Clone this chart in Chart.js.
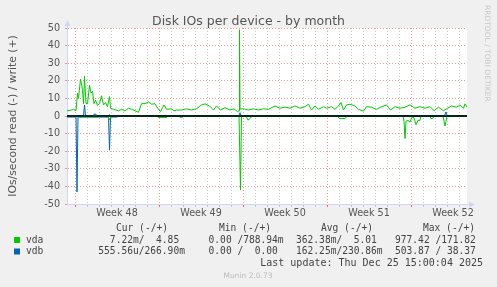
<!DOCTYPE html>
<html>
<head>
<meta charset="utf-8">
<title>Disk IOs per device - by month</title>
<script src="https://cdn.jsdelivr.net/npm/chart.js"></script>
<style>
  html, body { margin: 0; padding: 0; background: #f0f0f0; }
</style>
</head>
<body>
<canvas id="diskChart" width="497" height="287"></canvas>
<script>
// time axis is in hours from the left edge of the graph
const spanHours = 800;
const firstWeekHour = 16;
const weekLabels = ["Week 48", "Week 49", "Week 50", "Week 51", "Week 52"];

// [hour, value]; read is drawn negative
const vdaWrite = [
  [0, 3], [6, 3.2], [13, 3.8], [18, 3], [21, 13], [23, 10], [27, 21], [31, 15], [33, 7],
  [35, 22.5], [38, 7], [41, 7], [45, 17.5], [48, 13], [51, 14], [54, 7], [57, 9], [61, 6],
  [65, 7], [69, 11.5], [73, 6.3], [77, 7.6], [81, 5.3], [85, 11], [87, 4.4], [93, 3.8],
  [98, 3.4], [103, 2.9], [109, 3.8], [116, 2.9], [123, 4.4], [129, 3.8], [136, 3], [143, 2.1],
  [149, 7], [156, 7], [163, 8], [169, 6.7], [176, 7], [183, 3.8], [187, 2.5], [194, 6.3],
  [199, 3.8], [209, 4.1], [214, 3], [219, 3.4], [229, 3.4], [239, 4.1], [249, 3.4], [259, 4.1],
  [269, 6.3], [276, 6.9], [285, 5.7], [293, 3.4], [299, 5.7], [307, 3.4], [316, 4.7], [326, 3.4],
  [334, 4.1], [341, 2.5], [344, 3], [345, 49], [346, 4], [353, 4.1], [363, 3.4], [373, 4.1],
  [383, 3.4], [393, 4.1], [403, 3.8], [416, 5.7], [426, 4.4], [436, 5], [446, 4.4], [456, 5.7],
  [466, 4.4], [476, 5.3], [483, 6.7], [489, 3.4], [496, 5.7], [503, 3.8], [513, 5.3], [519, 4.4],
  [529, 5.3], [536, 3.8], [543, 5.7], [548, 7.6], [553, 3.4], [559, 6.3], [566, 6.7], [576, 5.7],
  [583, 3.8], [593, 2.8], [599, 5.3], [609, 5], [619, 3.8], [629, 5.3], [639, 6.3], [647, 3.4],
  [656, 5.3], [666, 4.4], [676, 5], [686, 6.3], [696, 4.4], [706, 5.3], [716, 4.4], [726, 5.3],
  [734, 3], [743, 5], [753, 3], [761, 4.4], [769, 5.7], [779, 5], [786, 6.3], [793, 4.4],
  [796, 6.9], [800, 5],
];
const vdaRead = [
  [0, 0], [24, 0], [26, -0.5], [60, -0.5], [62, 0], [82, 0], [84, -2.3], [88, -0.5], [92, 0],
  [180, 0], [182, -0.8], [200, -0.8], [202, 0], [224, 0], [226, -0.8], [232, -0.6], [234, 0],
  [344, 0], [347, -42], [349, 0], [358, 0], [362, -2.3], [366, -1.5], [370, 0],
  [542, 0], [544, -1.3], [556, -1.5], [560, 0], [672, 0], [674, -3], [676, -12.8], [678, -3],
  [682, -2.5], [686, -3.5], [690, -0.5], [694, -1], [698, -5], [702, -2.5], [706, -2.5], [708, 0],
  [726, 0], [728, -1.5], [732, -1.2], [734, 0], [752, 0], [756, -5.7], [758, -3], [760, 0], [800, 0],
];
const vdbWrite = [
  [0, 0.2], [33, 0.2], [35, 6.3], [37, 0.2], [52, 0.2], [54, 1], [58, 1], [60, 0.2], [84, 0.2],
  [85, 0.8], [86, 0.2], [344, 0.2], [346, 1.9], [348, 0.2], [755, 0.2], [758, 2.3], [760, 0.2],
  [800, 0.2],
];
const vdbRead = [
  [0, -0.6], [18, -0.6], [20, -43.2], [22, -0.6], [83, -0.6], [85, -19.4], [87, -0.6],
  [100, -0.6], [102, -0.2], [800, -0.2],
];

// legend table
const seriesNames = ["vda", "vdb"];
const seriesColors = ["#00cc00", "#0066b3"];
const legendHeaders = ["Cur (-/+)", "Min (-/+)", "Avg (-/+)", "Max (-/+)"];
const curValues = ["  7.22m/  4.85", "555.56u/266.90m"];
const minValues = ["  0.00 /788.94m", "  0.00 /  0.00"];
const avgValues = ["362.38m/  5.01", "162.25m/230.86m"];
const maxValues = ["977.42 /171.82", "503.87 / 38.37"];
const lastUpdate = "Last update: Thu Dec 25 15:00:04 2025";

const color = {
  font: "#555555",
  axis: "#cfd6f8",
  major: "rgba(236, 130, 130, 0.85)",
  minor: "rgba(200, 200, 200, 1)",
  none: "rgba(0, 0, 0, 0)",
};

const dayTicks = [];
for (let h = firstWeekHour; h < spanHours; h += 24) dayTicks.push(h);
const labelTicks = weekLabels.map((_, i) => firstWeekHour + 84 + 168 * i);
const xTicks = dayTicks.concat(labelTicks).sort((a, b) => a - b);

function isWeekStart(v) {
  return (v - firstWeekHour) % 168 === 0;
}

function makeDataset(label, pairs, col) {
  return {
    label: label,
    data: pairs.map(([x, y]) => ({ x: x, y: y })),
    borderColor: col,
    backgroundColor: col,
    borderWidth: 1,
    pointRadius: 0,
    tension: 0,
  };
}

const muninFrame = {
  id: "muninFrame",
  beforeDraw(chart) {
    const { ctx, chartArea: a } = chart;
    ctx.save();
    ctx.fillStyle = "#f0f0f0";
    ctx.fillRect(0, 0, chart.width, chart.height);
    ctx.fillStyle = "#ffffff";
    ctx.fillRect(a.left, a.top, a.right - a.left, a.bottom - a.top);
    ctx.restore();
  },
  afterDatasetsDraw(chart) {
    // zero rule on top of the series
    const { ctx, chartArea: a } = chart;
    const y0 = chart.scales.y.getPixelForValue(0);
    ctx.save();
    ctx.strokeStyle = "#000000";
    ctx.lineWidth = 1.5;
    ctx.beginPath();
    ctx.moveTo(a.left, y0);
    ctx.lineTo(a.right, y0);
    ctx.stroke();
    ctx.restore();
  },
  afterDraw(chart) {
    const { ctx, chartArea: a } = chart;
    ctx.save();
    // axis extensions and arrows
    ctx.strokeStyle = color.axis;
    ctx.fillStyle = color.axis;
    ctx.lineWidth = 1;
    ctx.beginPath();
    ctx.moveTo(a.left + 0.5, a.top);
    ctx.lineTo(a.left + 0.5, a.top - 3);
    ctx.moveTo(a.right, a.bottom + 0.5);
    ctx.lineTo(a.right + 3, a.bottom + 0.5);
    ctx.stroke();
    ctx.beginPath();
    ctx.moveTo(a.left + 0.5, a.top - 8);
    ctx.lineTo(a.left - 2.5, a.top - 2);
    ctx.lineTo(a.left + 3.5, a.top - 2);
    ctx.closePath();
    ctx.fill();
    ctx.beginPath();
    ctx.moveTo(a.right + 8, a.bottom + 0.5);
    ctx.lineTo(a.right + 2, a.bottom - 2.5);
    ctx.lineTo(a.right + 2, a.bottom + 3.5);
    ctx.closePath();
    ctx.fill();

    // title
    ctx.fillStyle = color.font;
    ctx.textAlign = "center";
    ctx.textBaseline = "alphabetic";
    ctx.font = "12.5px 'DejaVu Sans'";
    ctx.fillText("Disk IOs per device - by month", 248.5, 24.5);

    // vertical axis title
    ctx.save();
    ctx.translate(15.5, (a.top + a.bottom) / 2);
    ctx.rotate(-Math.PI / 2);
    ctx.font = "10.8px 'DejaVu Sans'";
    ctx.fillText("IOs/second read (-) / write (+)", 0, 0);
    ctx.restore();

    // rrdtool credit
    ctx.save();
    ctx.translate(484.5, 5);
    ctx.rotate(Math.PI / 2);
    ctx.textAlign = "left";
    ctx.fillStyle = "#c8c8c8";
    ctx.font = "7.5px 'DejaVu Sans'";
    ctx.fillText("RRDTOOL / TOBI OETIKER", 0, 0);
    ctx.restore();

    // legend table
    ctx.textAlign = "left";
    ctx.textBaseline = "middle";
    ctx.fillStyle = "#444444";
    ctx.font = "9.6px 'DejaVu Sans Mono'";
    const headX = [116, 219, 321, 423];
    legendHeaders.forEach((h, i) => ctx.fillText(h, headX[i], 228));
    const colX = [98.3, 197, 296, 395];
    const columns = [curValues, minValues, avgValues, maxValues];
    seriesNames.forEach((name, r) => {
      const y = 240 + r * 11.5;
      ctx.fillStyle = seriesColors[r];
      ctx.fillRect(14, y - 3, 6, 6);
      ctx.fillStyle = "#444444";
      ctx.fillText(name, 26, y);
      columns.forEach((col, c) => ctx.fillText(col[r], colX[c], y));
    });
    ctx.textAlign = "right";
    ctx.font = "10px 'DejaVu Sans Mono'";
    ctx.fillText(lastUpdate, 483, 263.5);

    ctx.textAlign = "center";
    ctx.fillStyle = "#bbbbbb";
    ctx.font = "7.5px 'DejaVu Sans'";
    ctx.fillText("Munin 2.0.73", 248, 276);
    ctx.restore();
  },
};

const tickFont = { family: "DejaVu Sans", size: 9.6 };

const diskChart = new Chart(document.getElementById("diskChart"), {
  type: "line",
  data: {
    datasets: [
      makeDataset("vda read", vdaRead, seriesColors[0]),
      makeDataset("vda write", vdaWrite, seriesColors[0]),
      makeDataset("vdb read", vdbRead, seriesColors[1]),
      makeDataset("vdb write", vdbWrite, seriesColors[1]),
    ],
  },
  options: {
    responsive: false,
    animation: false,
    devicePixelRatio: 1,
    layout: { padding: { left: 0, top: 28, right: 30, bottom: 63 } },
    plugins: {
      legend: { display: false },
      tooltip: { enabled: false },
      title: { display: false },
    },
    scales: {
      x: {
        type: "linear",
        min: 0,
        max: spanHours,
        afterBuildTicks: (scale) => {
          scale.ticks = xTicks.map((v) => ({ value: v }));
        },
        afterFit: (scale) => {
          scale.height = 20;
        },
        ticks: {
          autoSkip: false,
          maxRotation: 0,
          padding: 1,
          color: color.font,
          font: tickFont,
          callback: (v) => {
            const i = labelTicks.indexOf(v);
            return i >= 0 ? weekLabels[i] : "";
          },
        },
        grid: {
          tickLength: 3,
          color: (ctx) => {
            const v = ctx.tick.value;
            if (labelTicks.includes(v)) return color.none;
            return isWeekStart(v) ? color.major : color.minor;
          },
          tickColor: (ctx) => {
            const v = ctx.tick.value;
            if (labelTicks.includes(v)) return color.none;
            return isWeekStart(v) ? "rgba(232, 100, 100, 1)" : color.minor;
          },
        },
        border: { color: color.axis, dash: [1, 2] },
      },
      y: {
        min: -50,
        max: 50,
        afterFit: (scale) => {
          scale.width = 67;
        },
        ticks: {
          stepSize: 5,
          padding: 5,
          color: color.font,
          font: tickFont,
          callback: (v) => (v % 10 === 0 ? String(v) : ""),
        },
        grid: {
          tickLength: 2,
          color: (ctx) => (ctx.tick.value % 10 === 0 ? color.major : color.minor),
          tickColor: (ctx) => (ctx.tick.value % 10 === 0 ? color.major : color.minor),
        },
        border: { color: color.axis, dash: [1, 2] },
      },
    },
  },
  plugins: [muninFrame],
});
</script>
</body>
</html>
